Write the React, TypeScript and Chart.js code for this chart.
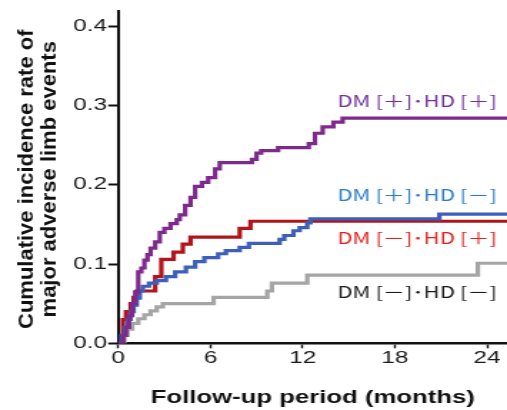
import React, { useEffect, useRef } from "react";
import { Chart, registerables } from "chart.js";

Chart.register(...registerables);

// ---- data ----
const X_TICKS = [0, 6, 12, 18, 24];
const Y_TICKS = [0, 0.1, 0.2, 0.3, 0.4];
const X_MAX = 25.3;
const Y_MAX = 0.419;

const SERIES_NAMES = ["DM [＋]･HD [＋]", "DM [＋]･HD [－]", "DM [－]･HD [＋]", "DM [－]･HD [－]"];

// DM[+]・HD[+]
const PURPLE_T = [0, 0.3, 0.5, 0.7, 0.9, 1.1, 1.3, 1.5, 1.7, 1.9, 2.1, 2.4, 2.7, 3.0, 3.4, 3.8, 4.0, 4.35, 4.7, 5.0, 5.45, 5.85, 6.3, 6.6, 8.7, 9.0, 9.3, 10.4, 12.4, 12.8, 13.3, 14.0, 14.6, 25.3];
const PURPLE_Y = [0, 0.01, 0.02, 0.035, 0.05, 0.065, 0.09, 0.095, 0.105, 0.112, 0.12, 0.128, 0.14, 0.145, 0.151, 0.156, 0.162, 0.174, 0.184, 0.198, 0.203, 0.209, 0.22, 0.228, 0.232, 0.24, 0.243, 0.247, 0.252, 0.265, 0.273, 0.279, 0.284, 0.284];

// DM[+]・HD[-]
const BLUE_T = [0, 0.2, 0.4, 0.6, 0.8, 1.0, 1.2, 1.4, 1.6, 2.0, 2.5, 3.1, 3.7, 4.4, 5.0, 5.6, 6.5, 7.0, 7.9, 8.5, 10.5, 10.8, 11.4, 11.8, 12.3, 12.5, 20.9, 25.3];
const BLUE_Y = [0, 0.01, 0.02, 0.03, 0.04, 0.048, 0.057, 0.066, 0.072, 0.076, 0.079, 0.084, 0.09, 0.096, 0.103, 0.108, 0.113, 0.117, 0.121, 0.126, 0.131, 0.136, 0.142, 0.146, 0.152, 0.157, 0.163, 0.163];

// DM[-]・HD[+]
const RED_T = [0, 0.3, 0.5, 0.8, 1.0, 1.2, 2.4, 2.8, 3.6, 4.2, 4.7, 7.9, 8.6, 25.3];
const RED_Y = [0, 0.03, 0.04, 0.05, 0.058, 0.066, 0.084, 0.106, 0.115, 0.125, 0.134, 0.145, 0.154, 0.154];

// DM[-]・HD[-]
const GRAY_T = [0, 0.4, 0.6, 0.9, 1.3, 1.7, 2.1, 2.5, 2.9, 6.2, 9.7, 10.0, 12.3, 23.4, 25.3];
const GRAY_Y = [0, 0.01, 0.018, 0.025, 0.031, 0.036, 0.041, 0.046, 0.05, 0.058, 0.066, 0.076, 0.086, 0.101, 0.101];

const Y_TITLE = ["Cumulative incidence rate of", "major adverse limb events"];
const X_TITLE = "Follow-up period (months)";

// label anchor (data units) for the curve names
const LABEL_X = 24.65;
const LABEL_Y = [0.306, 0.1865, 0.1325, 0.0645];

// ---- look ----
const OUT_W = 507;
const OUT_H = 410;
const IN_W = 355;
const SX = OUT_W / IN_W; // horizontal stretch of the whole figure

const LINE_COLORS = ["#7d2a8c", "#3c5fb9", "#b2141b", "#a5a5a5"];
const TEXT_COLORS = ["#7030a0", "#2a7dcc", "#e3221d", "#1a1a1a"];
const FONT = "'Liberation Sans', Arial, sans-serif";

const toXY = (t: number[], y: number[]) => t.map((v, i) => ({ x: v, y: y[i] }));

export default function App() {
  const ref = useRef<HTMLCanvasElement | null>(null);

  useEffect(() => {
    document.body.style.margin = "0";
    const canvas = ref.current;
    if (!canvas) return;

    const labelsPlugin = {
      id: "curveLabels",
      afterDatasetsDraw(chart: any) {
        const { ctx, scales } = chart;
        ctx.save();
        ctx.font = "15.5px 'Noto Sans CJK JP', sans-serif";
        ctx.textAlign = "right";
        ctx.textBaseline = "middle";
        SERIES_NAMES.forEach((name, i) => {
          ctx.fillStyle = TEXT_COLORS[i];
          ctx.fillText(name, scales.x.getPixelForValue(LABEL_X), scales.y.getPixelForValue(LABEL_Y[i]));
        });
        ctx.restore();
      },
    };

    const yTitlePlugin = {
      id: "yTitle",
      afterDraw(chart: any) {
        const { ctx, chartArea } = chart;
        const cy = (chartArea.top + chartArea.bottom) / 2 + 2;
        const baselines = [32.5, 55.5]; // output pixels
        ctx.save();
        ctx.fillStyle = "#111";
        ctx.font = `bold 22px ${FONT}`;
        ctx.textAlign = "center";
        ctx.textBaseline = "alphabetic";
        Y_TITLE.forEach((line, i) => {
          ctx.save();
          ctx.translate(baselines[i] / SX, cy);
          ctx.scale(1 / SX, 1);
          ctx.rotate(-Math.PI / 2);
          ctx.fillText(line, 0, 0);
          ctx.restore();
        });
        ctx.restore();
      },
    };

    const mk = (t: number[], y: number[], i: number) => ({
      data: toXY(t, y),
      borderColor: LINE_COLORS[i],
      backgroundColor: LINE_COLORS[i],
      borderWidth: 3.2,
      pointRadius: 0,
      stepped: "before" as const,
      fill: false,
    });

    const chart = new Chart(canvas, {
      type: "line",
      data: {
        datasets: [
          mk(PURPLE_T, PURPLE_Y, 0),
          mk(BLUE_T, BLUE_Y, 1),
          mk(RED_T, RED_Y, 2),
          mk(GRAY_T, GRAY_Y, 3),
        ],
      },
      options: {
        animation: false,
        responsive: false,
        devicePixelRatio: 1,
        events: [],
        layout: { padding: { top: 10, right: 0, bottom: 0, left: 0 } },
        plugins: { legend: { display: false }, tooltip: { enabled: false } },
        scales: {
          x: {
            type: "linear",
            min: 0,
            max: X_MAX,
            afterBuildTicks: (s: any) => {
              s.ticks = X_TICKS.map((v) => ({ value: v }));
            },
            afterFit: (s: any) => {
              s.height = 66.7;
            },
            border: { display: true, color: "#111", width: 2.6 },
            grid: {
              drawOnChartArea: false,
              drawTicks: true,
              tickLength: 5,
              tickWidth: 1.4,
              tickColor: "#111",
            },
            ticks: {
              padding: 0,
              color: "#1a1a1a",
              font: { family: FONT, size: 17 },
              maxRotation: 0,
              callback: (v: any) => String(v),
            },
            title: {
              display: true,
              text: X_TITLE,
              color: "#111",
              font: { family: FONT, size: 18, weight: "bold" },
              padding: { top: 0, bottom: 1 },
            },
          },
          y: {
            type: "linear",
            min: 0,
            max: Y_MAX,
            afterBuildTicks: (s: any) => {
              s.ticks = Y_TICKS.map((v) => ({ value: v }));
            },
            afterFit: (s: any) => {
              s.width = 118.3 / SX;
            },
            border: { display: true, color: "#111", width: 2 },
            grid: {
              drawOnChartArea: false,
              drawTicks: true,
              tickLength: 7,
              tickWidth: 2,
              tickColor: "#111",
            },
            ticks: {
              padding: 1,
              color: "#1a1a1a",
              font: { family: FONT, size: 17 },
              callback: (v: any) => Number(v).toFixed(1),
            },
          },
        },
      },
      plugins: [labelsPlugin, yTitlePlugin],
    } as any);

    return () => chart.destroy();
  }, []);

  return (
    <div style={{ position: "fixed", left: 0, top: 0, width: OUT_W, height: OUT_H, background: "#fff" }}>
      <canvas
        ref={ref}
        width={IN_W}
        height={OUT_H}
        style={{ width: OUT_W + "px", height: OUT_H + "px", display: "block" }}
      />
    </div>
  );
}
